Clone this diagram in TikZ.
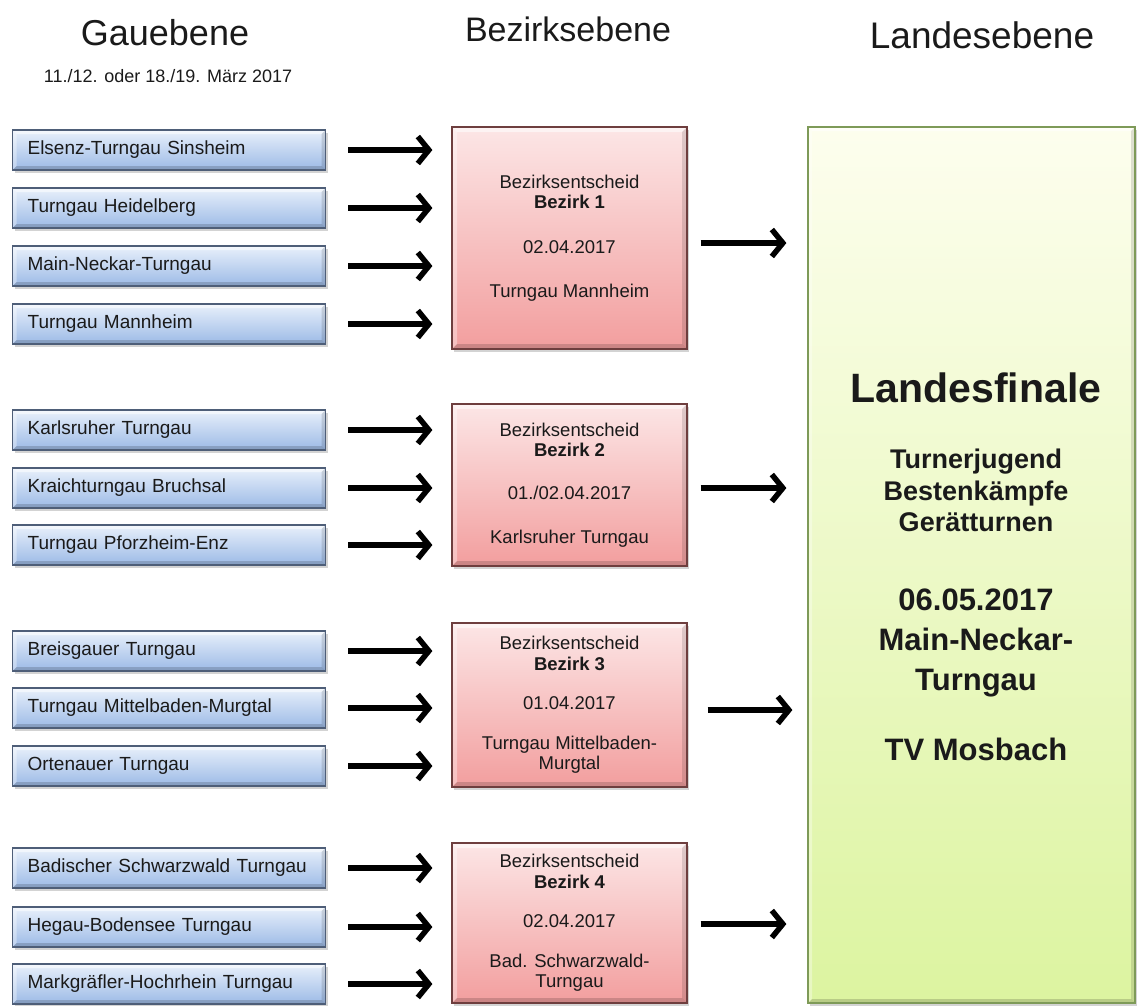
\documentclass[tikz,border=0pt]{standalone}
\usepackage{fontspec}
\setmainfont{Liberation Sans}
\usetikzlibrary{arrows.meta,shadows,calc}
\definecolor{blueTop}{HTML}{E8F0FB}
\definecolor{blueBot}{HTML}{9CBAE6}
\definecolor{blueBorder}{HTML}{4E5E78}
\definecolor{redTop}{HTML}{FCE6E6}
\definecolor{redBot}{HTML}{F29E9E}
\definecolor{redBorder}{HTML}{6E3E3E}
\definecolor{greenTop}{HTML}{FDFEEE}
\definecolor{greenMid}{HTML}{F3FAD2}
\definecolor{greenBot}{HTML}{DCF4A0}
\definecolor{greenBorder}{HTML}{7E9A58}
\definecolor{txt}{HTML}{1A1A1A}
\begin{document}
\begin{tikzpicture}[x=1pt,y=-1pt,
  boxshadow/.style={drop shadow={opacity=0.35, shadow xshift=2pt, shadow yshift=-3pt}},
  bevel/.style={path picture={
    \coordinate (pSW) at (path picture bounding box.south west);
    \coordinate (pNE) at (path picture bounding box.north east);
    \coordinate (pNW) at (pSW |- pNE);
    \coordinate (pSE) at (pNE |- pSW);
    \fill[white,opacity=0.55] (pNW) -- (pNE) -- ([shift={(-#1,-#1)}]pNE) -- ([shift={(#1,-#1)}]pNW) -- cycle;
    \fill[white,opacity=0.35] (pSW) -- (pNW) -- ([shift={(#1,-#1)}]pNW) -- ([shift={(#1,#1)}]pSW) -- cycle;
    \fill[black,opacity=0.16] (pSW) -- (pSE) -- ([shift={(-#1,#1)}]pSE) -- ([shift={(#1,#1)}]pSW) -- cycle;
    \fill[black,opacity=0.12] (pSE) -- (pNE) -- ([shift={(-#1,-#1)}]pNE) -- ([shift={(-#1,#1)}]pSE) -- cycle;
  }},
  gau/.style={rectangle, draw=blueBorder, line width=1.2pt, top color=blueTop, bottom color=blueBot,
    boxshadow, bevel=4pt, anchor=west, text width=283pt, inner xsep=15pt, minimum height=40pt,
    align=left, font=\fontsize{19}{21}\selectfont, text=txt},
  bez/.style={rectangle, draw=redBorder, line width=1.2pt, top color=redTop, bottom color=redBot,
    boxshadow, bevel=5pt, minimum width=235pt, align=center, inner sep=0pt,
    font=\fontsize{18.5}{20.5}\selectfont, text=txt},
  land/.style={rectangle, draw=greenBorder, line width=1.2pt, top color=greenTop, middle color=greenMid,
    bottom color=greenBot, boxshadow, bevel=4pt, minimum width=327pt, minimum height=876pt, inner sep=0pt},
  head/.style={font=\fontsize{36}{40}\selectfont, text=txt, inner sep=0pt},
  ltext/.style={font=\bfseries\fontsize{27}{30}\selectfont, text=txt, inner sep=0pt, anchor=base},
  ltextb/.style={font=\bfseries\fontsize{31}{34}\selectfont, text=txt, inner sep=0pt, anchor=base},
  arr/.style={line width=5.5pt, -{Straight Barb[length=11pt,width=27pt]}}
]
\useasboundingbox (0,0) rectangle (1141,1005);

% headers
\node[head] (h1) at (165,33) {Gauebene};
\node[font=\fontsize{18}{20}\selectfont, text=txt, inner sep=0pt] (h1s) at (168,76) {11./12. oder 18./19. März 2017};
\node[head, font=\fontsize{34}{38}\selectfont] (h2) at (568,29) {Bezirksebene};
\node[head, font=\fontsize{37}{40}\selectfont] (h3) at (982,35) {Landesebene};

% Gau boxes
\node[gau] (g1) at (12,150) {Elsenz-Turngau Sinsheim};
\node[gau] (g2) at (12,208) {Turngau Heidelberg};
\node[gau] (g3) at (12,266) {Main-Neckar-Turngau};
\node[gau] (g4) at (12,324) {Turngau Mannheim};
\node[gau] (g5) at (12,430) {Karlsruher Turngau};
\node[gau] (g6) at (12,488) {Kraichturngau Bruchsal};
\node[gau] (g7) at (12,545) {Turngau Pforzheim-Enz};
\node[gau] (g8) at (12,651) {Breisgauer Turngau};
\node[gau] (g9) at (12,708) {Turngau Mittelbaden-Murgtal};
\node[gau] (g10) at (12,766) {Ortenauer Turngau};
\node[gau] (g11) at (12,868) {Badischer Schwarzwald Turngau};
\node[gau] (g12) at (12,927) {Hegau-Bodensee Turngau};
\node[gau] (g13) at (12,984) {Markgräfler-Hochrhein Turngau};

% Bezirk boxes
\node[bez, minimum height=222pt] (r1) at (569.5,238)
  {Bezirksentscheid\\ \textbf{Bezirk 1}\\[24pt] 02.04.2017\\[24pt] Turngau Mannheim};
\node[bez, minimum height=162pt] (r2) at (569.5,485)
  {Bezirksentscheid\\ \textbf{Bezirk 2}\\[22pt] 01./02.04.2017\\[24pt] Karlsruher Turngau};
\node[bez, minimum height=164pt] (r3) at (569.5,705)
  {Bezirksentscheid\\ \textbf{Bezirk 3}\\[19pt] 01.04.2017\\[19pt] Turngau Mittelbaden-\\ Murgtal};
\node[bez, minimum height=160pt] (r4) at (569.5,923)
  {Bezirksentscheid\\ \textbf{Bezirk 4}\\[19pt] 02.04.2017\\[19pt] Bad. Schwarzwald-\\ Turngau};

% Landes box
\node[land] (L) at (971.5,565) {};
\node[font=\bfseries\fontsize{41}{44}\selectfont, text=txt, inner sep=0pt, anchor=base] (l1) at (976,402) {Landesfinale};
\node[ltext] (l2) at (976,468) {Turnerjugend};
\node[ltext] (l3) at (976,500) {Bestenkämpfe};
\node[ltext] (l4) at (976,531) {Gerätturnen};
\node[ltextb] (l5) at (976,610) {06.05.2017};
\node[ltextb] (l6) at (976,650) {Main-Neckar-};
\node[ltextb] (l7) at (976,690) {Turngau};
\node[ltextb] (l8) at (976,760) {TV Mosbach};

% arrows Gau -> Bezirk
\foreach \g/\r in {g1/r1,g2/r1,g3/r1,g4/r1,g5/r2,g6/r2,g7/r2,g8/r3,g9/r3,g10/r3,g11/r4,g12/r4,g13/r4}
  \draw[arr, shorten <=22pt, shorten >=19pt] (\g.east) -- (\g.east -| \r.west);

% arrows Bezirk -> Land
\draw[arr, shorten <=13pt, shorten >=21pt] ([yshift=-5pt]r1.east) -- ([yshift=-5pt]r1.east -| L.west);
\draw[arr, shorten <=13pt, shorten >=21pt] ([yshift=-3pt]r2.east) -- ([yshift=-3pt]r2.east -| L.west);
\draw[arr, shorten <=20pt, shorten >=15pt] ([yshift=-5pt]r3.east) -- ([yshift=-5pt]r3.east -| L.west);
\draw[arr, shorten <=13pt, shorten >=21pt] ([yshift=-1pt]r4.east) -- ([yshift=-1pt]r4.east -| L.west);
\end{tikzpicture}
\end{document}
